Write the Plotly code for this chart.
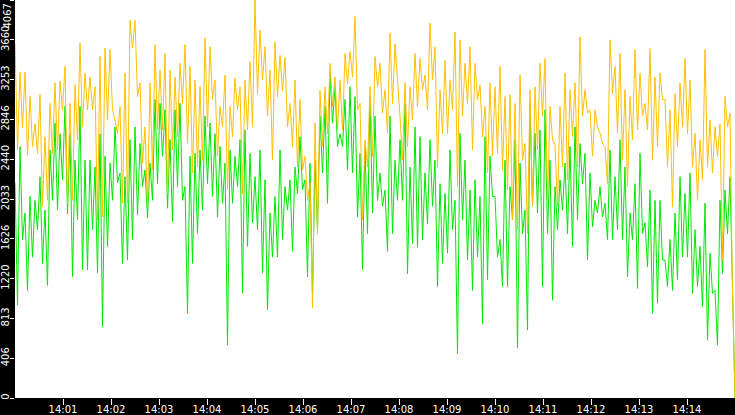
import pandas as pd
import plotly.graph_objects as go

# values, alternating local highs / lows, 14:00 -> 14:15
orange = [
    3625, 2535, 3330, 2760, 3330, 2480, 3080, 2570, 2800, 2500, 3100, 1955, 2670, 2020, 3010, 2500,
    3220, 2535, 3240, 2940, 3390, 1990, 3010, 2020, 3200, 2640, 3625, 2770, 3320, 2945, 3280, 2945,
    3180, 1820, 3490, 1850, 3575, 2840, 3560, 2945, 2840, 2700, 2980, 1990, 3320, 1990, 3860, 3575,
    3860, 3080, 3220, 2400, 2770, 1955, 3220, 2330, 3610, 2740, 3350, 2740, 3520, 2090, 3350, 2535,
    3280, 2670, 3420, 3010, 3610, 2600, 3390, 2300, 3250, 2360, 3180, 2430, 3680, 2770, 3590, 3050,
    3250, 2470, 2980, 2770, 3300, 2130, 2980, 2670, 3270, 2945, 3180, 2090, 3250, 2740, 3440, 2770,
    4067, 3110, 3760, 3250, 3590, 2880, 3350, 2430, 3640, 3080, 3500, 3140, 3480, 2770, 3010, 2570,
    3250, 2360, 3050, 2330, 2470, 2020, 2200, 920, 2810, 1680, 3140, 2570, 3180, 2700, 3420, 2980,
    3280, 2740, 3250, 2740, 3520, 3210, 3540, 3280, 3900, 2945, 3010, 1820, 2640, 2360, 3180, 2470,
    3490, 3180, 3420, 2910, 3150, 2705, 3730, 3010, 3620, 3280, 2880, 2430, 3220, 2570, 3180, 2840,
    3520, 2980, 3470, 3150, 3300, 2945, 3830, 3250, 3590, 2360, 3150, 2700, 3450, 2700, 3250, 2945,
    3740, 2160, 3660, 2880, 3420, 3010, 3590, 2535, 3420, 3050, 3200, 2670, 2980, 2300, 3220, 2470,
    3180, 2500, 3390, 2330, 3080, 2125, 3100, 1820, 3010, 1720, 3300, 2430, 2600, 1680, 3150, 1960,
    3180, 2535, 3420, 2880, 3470, 2020, 2980, 2640, 2590, 1960, 2980, 2360, 3320, 2230, 3150, 2670,
    3220, 2360, 3690, 2880, 3150, 2910, 2945, 2470, 2945, 2770, 2705, 2600, 2570, 2190, 3660, 3110,
    3390, 2705, 3520, 2430, 3150, 2160, 3080, 2640, 3560, 2740, 3320, 2880, 3010, 2740, 3570, 2430,
    3280, 2570, 3320, 3050, 3050, 2360, 2945, 1950, 3110, 2570, 3220, 2770, 3470, 2700, 3250, 2360,
    2705, 2020, 2640, 2230, 3560, 2360, 2840, 2300, 2770, 2470, 2800, 1410, 3080, 2770, 2910, 1070,
    0,
]

green = [
    2200, 950, 2570, 1620, 1890, 1100, 2060, 1440, 2020, 1720, 2260, 1375, 1920, 1150, 2535, 2020,
    2810, 1920, 2700, 2230, 2980, 1880, 2700, 1240, 2430, 1820, 2980, 1310, 2430, 1310, 2430, 1720,
    2360, 1280, 2700, 730, 2470, 1550, 2400, 2020, 2770, 2200, 2300, 1375, 2260, 1410, 2640, 1620,
    2770, 1870, 2600, 2160, 2330, 1840, 2400, 2020, 3050, 2190, 3010, 2470, 2945, 1940, 2640, 1800,
    2945, 2160, 3010, 2020, 2160, 865, 2470, 1375, 2500, 1680, 2535, 1920, 2880, 2190, 2810, 2060,
    2700, 1850, 2570, 1990, 2400, 540, 2535, 1990, 2470, 2160, 2640, 1070, 2740, 1550, 2500, 1790,
    2260, 1720, 2535, 1280, 2230, 900, 1890, 1440, 2060, 1440, 2535, 1620, 2160, 1920, 2230, 1500,
    2360, 2090, 2670, 2130, 2230, 1240, 2400, 1040, 2430, 1720, 2880, 2300, 2980, 1990, 3320, 2810,
    3180, 2570, 2700, 2570, 3050, 2330, 3180, 2300, 3080, 1850, 2500, 1310, 2570, 1680, 3080, 1890,
    2880, 2020, 2300, 1960, 2125, 1500, 2880, 1680, 2430, 2020, 2640, 2020, 3010, 1270, 2360, 1580,
    2770, 1540, 2670, 1620, 2300, 1780, 2640, 1960, 2430, 1140, 2190, 1375, 2090, 1480, 2535, 1720,
    2020, 450, 2705, 1820, 2430, 1410, 2125, 1100, 2230, 1440, 2060, 760, 2670, 1210, 2470, 2060,
    2060, 1440, 1620, 1140, 2430, 1140, 2160, 1820, 2640, 510, 2400, 1680, 1920, 695, 3010, 1960,
    2705, 1890, 2740, 1140, 2945, 1680, 2430, 1000, 2160, 1720, 2230, 1920, 2400, 1680, 2570, 1550,
    2770, 1820, 2600, 2190, 2500, 1410, 2300, 1750, 2020, 1890, 2160, 1850, 1990, 1620, 2535, 1620,
    2260, 1720, 2640, 1620, 2360, 1240, 1890, 1620, 2190, 1120, 2500, 1680, 1790, 1340, 2125, 865,
    2020, 970, 2020, 1410, 1410, 1140, 1620, 1100, 1890, 1210, 2260, 1440, 2090, 1440, 2300, 1070,
    1720, 1140, 1550, 935, 1990, 590, 1480, 1070, 1100, 540, 2020, 1270, 2125, 1680, 2260, 1070,
    0,
]

y_max = 4067
y_tick_labels = ["0", "406", "813", "1220", "1626", "2033", "2440", "2846", "3253", "3660", "4067"]
x_ticks = ["14:01", "14:02", "14:03", "14:04", "14:05", "14:06", "14:07",
           "14:08", "14:09", "14:10", "14:11", "14:12", "14:13", "14:14"]

day = "2024-01-01 "
times = pd.date_range(day + "14:00:00", day + "14:15:00", periods=len(orange))

fig = go.Figure()
fig.add_trace(go.Scatter(x=times, y=green, mode="lines",
                         line=dict(color="#00E600", width=1), showlegend=False))
fig.add_trace(go.Scatter(x=times, y=orange, mode="lines",
                         line=dict(color="#FFBF00", width=1), showlegend=False))

font = dict(family="DejaVu Sans", size=10, color="white")

fig.update_layout(
    width=735, height=415,
    margin=dict(l=15, r=0, t=0, b=17, autoexpand=False),
    paper_bgcolor="black",
    plot_bgcolor="white",
    font=font,
    xaxis=dict(
        range=[day + "14:00:00", day + "14:15:00"],
        tickvals=[day + t for t in x_ticks],
        ticktext=x_ticks,
        ticks="outside", ticklen=6, tickcolor="white", tickwidth=1,
        ticklabelstandoff=-4,
        showgrid=False, zeroline=False, showline=False,
        automargin=False,
        tickfont=font,
    ),
    yaxis=dict(
        range=[0, y_max],
        tickvals=[i * y_max / 10 for i in range(11)],
        # top label drawn as annotation so it isn't cut at the edge
        ticktext=y_tick_labels[:-1] + [""],
        tickangle=-90,
        ticks="outside", ticklen=4, tickcolor="white", tickwidth=1,
        ticklabelstandoff=-3,
        showgrid=False, zeroline=False, showline=False,
        automargin=False,
        tickfont=font,
    ),
)

fig.add_annotation(text=y_tick_labels[-1], xref="paper", yref="paper",
                   x=-8 / 720, y=1, xanchor="center", yanchor="top", yshift=-2,
                   textangle=-90, showarrow=False, font=font)

# page has a default body margin, drop it so the figure sits at 0,0
fig.write_html("out.html", config={"displayModeBar": False},
               post_script="document.body.style.margin='0';")
